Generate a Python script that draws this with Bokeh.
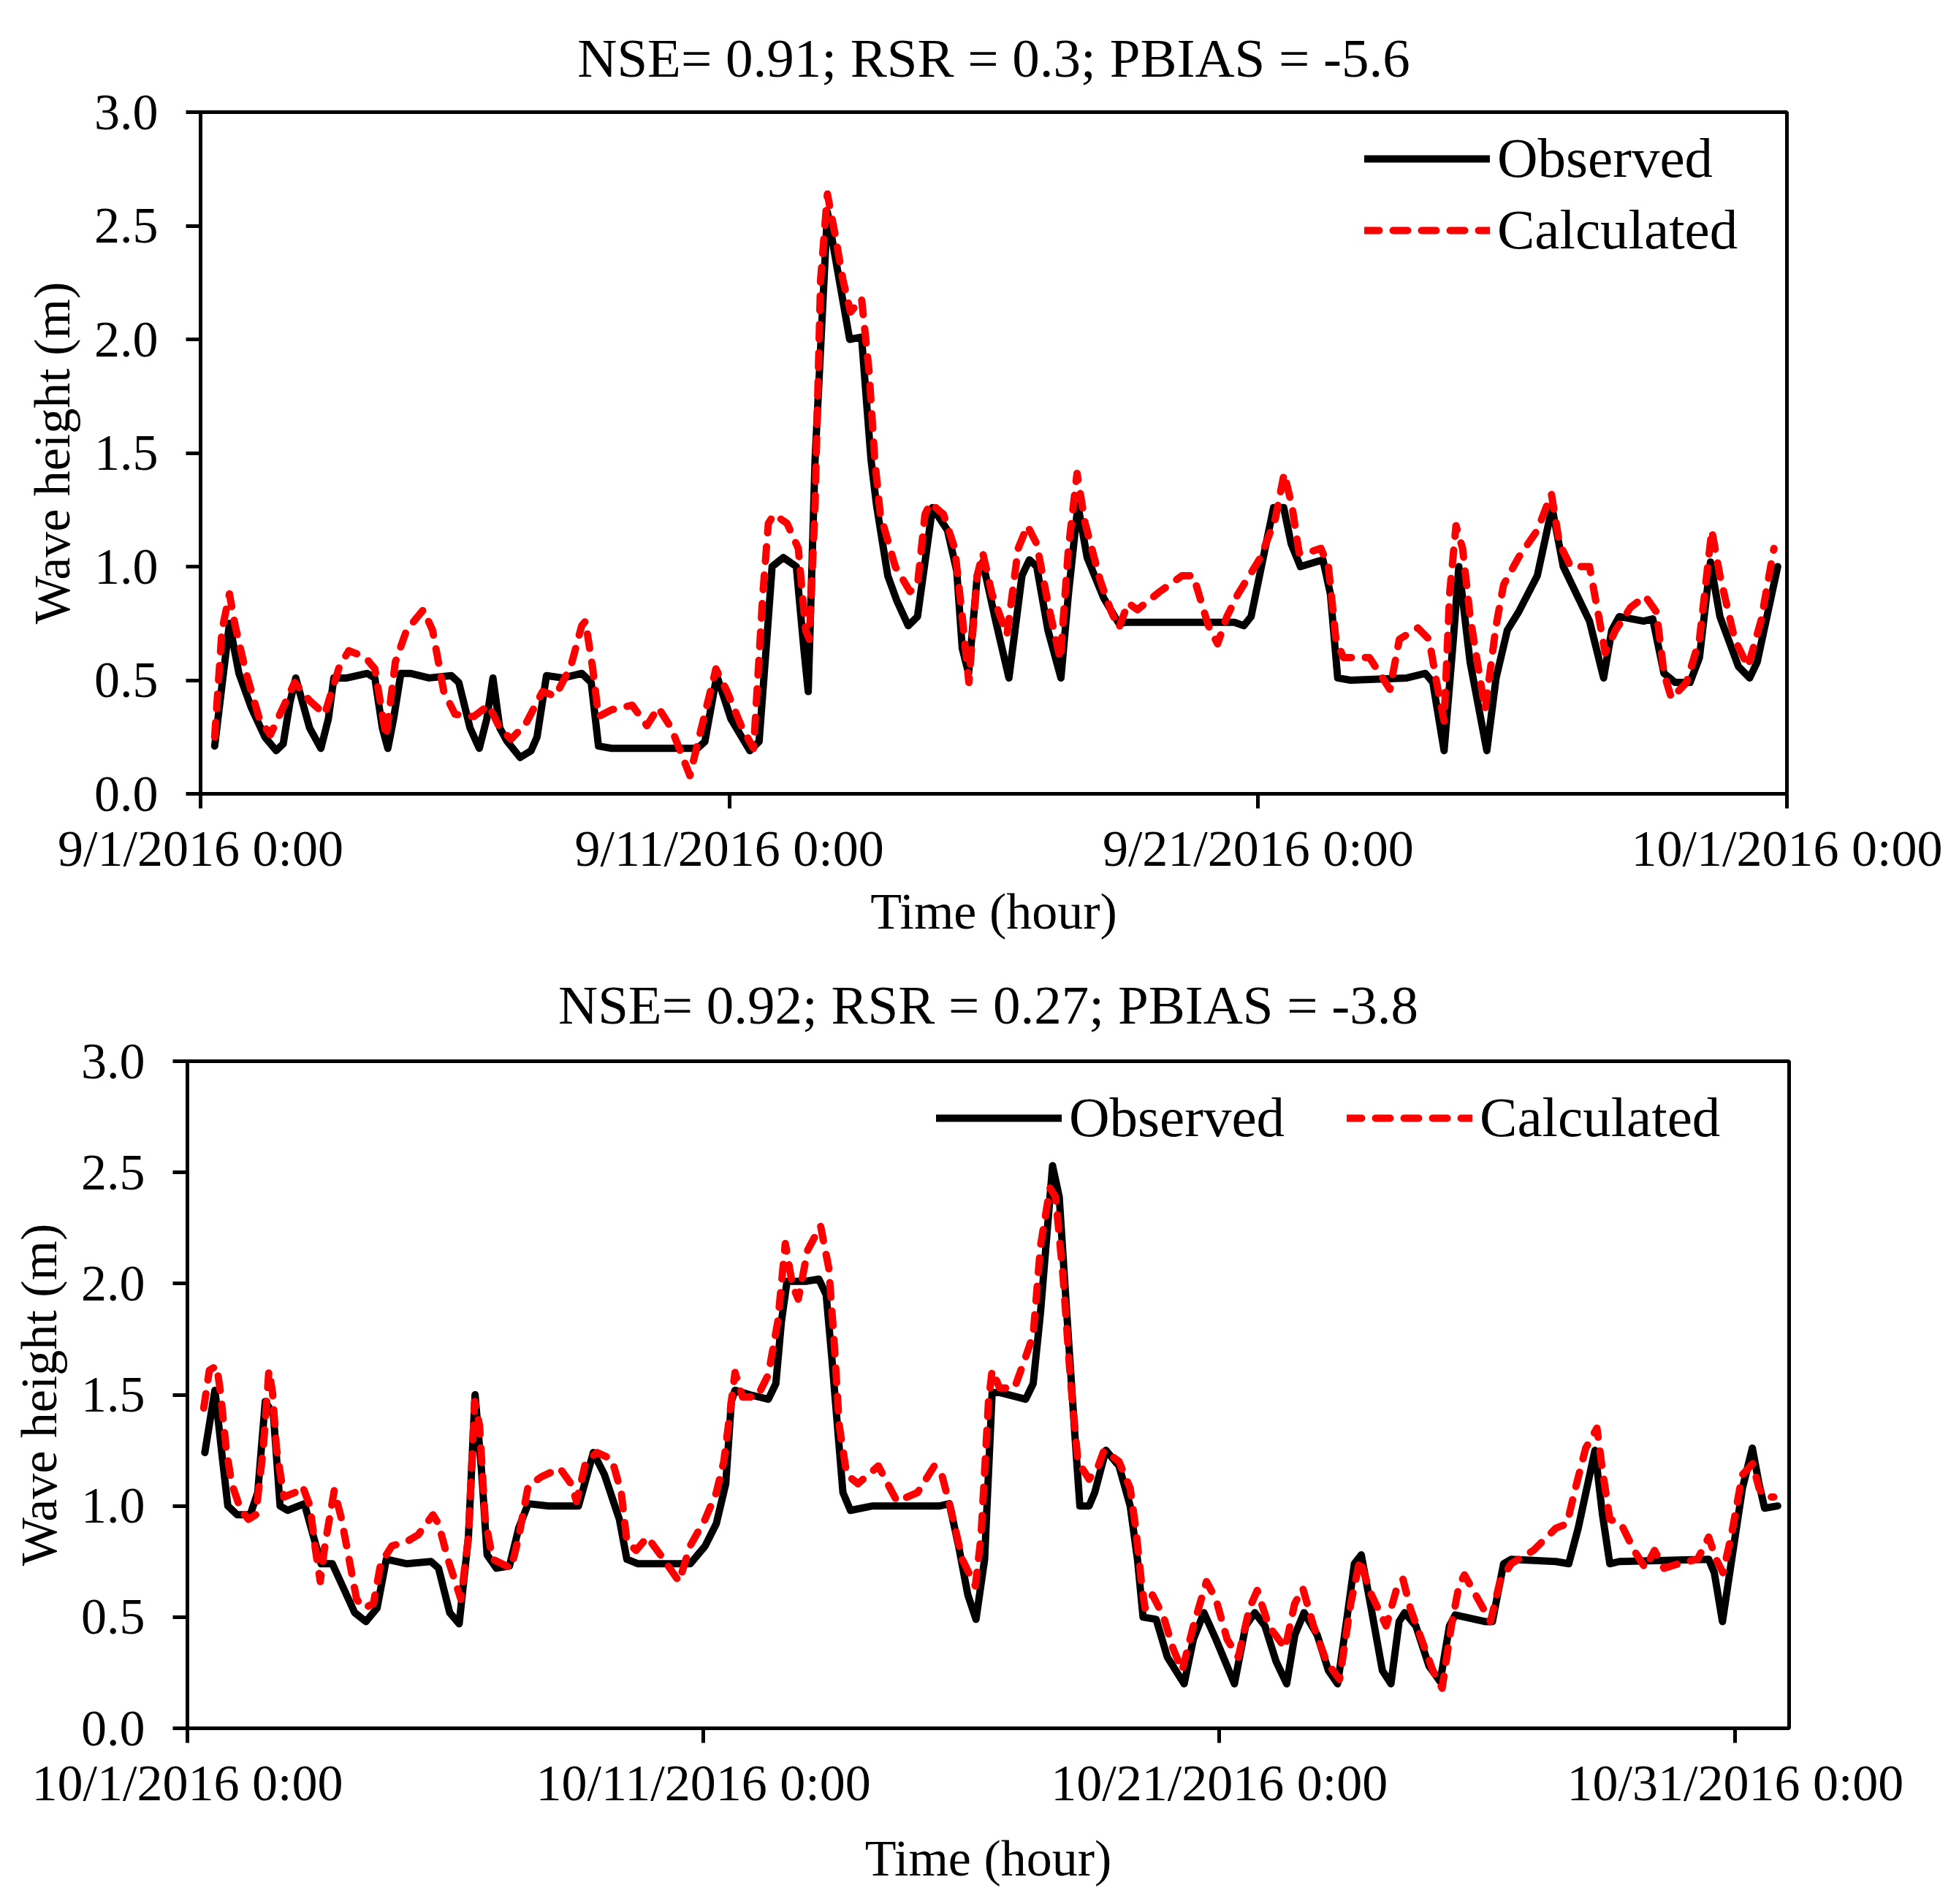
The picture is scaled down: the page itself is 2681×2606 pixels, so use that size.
from bokeh.plotting import figure
from bokeh.layouts import column, row
from bokeh.models import Range1d, FixedTicker, NumeralTickFormatter, Legend, LegendItem
from bokeh.embed import file_html
from bokeh.resources import INLINE

# ---------------- data (hours since start of month, wave height in m) ----------------
sep_titles = "NSE= 0.91; RSR = 0.3; PBIAS = -5.6"
oct_titles = "NSE= 0.92; RSR = 0.27; PBIAS = -3.8"

sep_tick_hours = [0, 240, 480, 720]
sep_tick_labels = ["9/1/2016 0:00", "9/11/2016 0:00", "9/21/2016 0:00", "10/1/2016 0:00"]
oct_tick_hours = [0, 240, 480, 720]
oct_tick_labels = ["10/1/2016 0:00", "10/11/2016 0:00", "10/21/2016 0:00", "10/31/2016 0:00"]
y_ticks = [0.0, 0.5, 1.0, 1.5, 2.0, 2.5, 3.0]

sep_obs_h = [6.4, 13.1, 17.4, 23, 29.2, 34.3, 37.5, 40.5, 43.2, 49.5, 54.6, 58, 60.5, 66.4, 75.7, 79.1,
             82.5, 85, 87.6, 90.9, 95.2, 103.7, 113.8, 117.2, 122.3, 126.5, 129.9, 132.7, 135.8, 139.2,
             145, 150, 152.7, 157, 164.6, 173, 177.3, 180.6, 186.6, 225.5, 228.9, 234.3, 240.7, 249.3,
             253.5, 257, 259.4, 264.5, 270.4, 273.8, 275.8, 278.9, 284.5, 289.9, 294.6, 300, 304.3,
             306.8, 311.9, 316, 321.2, 325.4, 332.2, 339, 343.2, 345.7, 348.6, 352.5, 355, 360.9, 366.9,
             372.8, 376.2, 379.5, 384.6, 390.5, 393.9, 398.2, 402.4, 410, 416.8, 420.2, 469.2, 473.5,
             476.8, 487, 491.6, 495, 499.2, 509.4, 512.8, 516.1, 522, 547.5, 555.9, 559.3, 564.4, 568.6,
             571.1, 576.2, 583.8, 588, 593.1, 598.2, 606.7, 613.4, 618.5, 630.4, 636.8, 640.5, 643.9,
             654.9, 659.1, 664.2, 669.3, 676, 680.3, 685.3, 689.6, 698, 703.1, 706.5, 715.8]
sep_obs_v = [0.21, 0.75, 0.53, 0.38, 0.25, 0.19, 0.22, 0.40, 0.51, 0.29, 0.20, 0.33, 0.51, 0.51, 0.53, 0.51,
             0.29, 0.20, 0.33, 0.53, 0.53, 0.51, 0.52, 0.49, 0.29, 0.20, 0.33, 0.51, 0.29, 0.23,
             0.16, 0.19, 0.25, 0.52, 0.51, 0.53, 0.49, 0.21, 0.20, 0.20, 0.23, 0.52, 0.33, 0.19,
             0.23, 0.68, 1.0, 1.04, 1.0, 0.64, 0.45, 1.47, 2.56, 2.26, 2.0, 2.01, 1.47,
             1.27, 0.96, 0.85, 0.74, 0.78, 1.26, 1.16, 0.98, 0.64, 0.53, 0.96, 1.02, 0.76, 0.51,
             0.96, 1.03, 1.0, 0.72, 0.51, 0.88, 1.27, 1.04, 0.86, 0.75, 0.755, 0.755, 0.74,
             0.78, 1.26, 1.26, 1.10, 1.0, 1.03, 0.88, 0.51, 0.50, 0.51, 0.53, 0.49, 0.19, 0.68,
             1.0, 0.58, 0.19, 0.51, 0.72, 0.80, 0.96, 1.26, 1.0, 0.76, 0.51, 0.72, 0.78,
             0.76, 0.77, 0.53, 0.49, 0.49, 0.60, 1.02, 0.78, 0.56, 0.51, 0.58, 1.0]

sep_calc_h = [6.4, 9.7, 13.1, 15.7, 20.7, 26.7, 31.7, 36, 42.7, 49.5, 56.3, 63, 67.3, 74.9, 79.1, 84.2,
              88.4, 93.5, 101.1, 105.3, 110.4, 115.5, 124, 130.7, 135.8, 140.9, 147.7, 155.2, 161, 168,
              173, 174.7, 178, 180.6, 186.6, 195.9, 202.6, 207.7, 213.6, 222.1, 226.3, 233.9, 239, 245.8,
              251, 255.2, 257.7, 260.3, 266.2, 271.3, 274.6, 276.3, 278.9, 281.4, 284.5, 288.2, 291.6,
              295, 300, 303.4, 306, 308.5, 315.3, 322, 325.4, 328.8, 331.3, 337.2, 342.3, 345.7, 348.7,
              352.5, 355, 359.2, 366, 371.1, 375.3, 379.5, 384.6, 390.2, 393.9, 397.8, 401.5, 408.3,
              413.4, 416.8, 421, 425.2, 435.4, 445.5, 450.6, 457.4, 461.6, 465.8, 470.9, 481.1, 487.8,
              491.8, 495.3, 498.6, 501.8, 508.5, 511.9, 515.3, 518.7, 530.5, 539.8, 544.1, 552.5, 557.6,
              561, 564.4, 566.9, 569.8, 572.8, 576.2, 583, 588, 591.4, 598.2, 606.7, 613.1, 616.8, 621.9,
              630.4, 634.6, 637.5, 642.2, 649, 655.7, 660.8, 664.2, 667.6, 674.4, 680.3, 685.9, 689.6,
              696.3, 702.3, 708.2, 714.1]
sep_calc_v = [0.25, 0.72, 0.88, 0.74, 0.53, 0.33, 0.26, 0.35, 0.49, 0.41, 0.35, 0.56, 0.63, 0.60, 0.55, 0.25,
              0.58, 0.72, 0.81, 0.72, 0.45, 0.35, 0.34, 0.39, 0.29, 0.24, 0.31, 0.45, 0.43, 0.56,
              0.74, 0.76, 0.55, 0.34, 0.37, 0.39, 0.30, 0.38, 0.29, 0.08, 0.25, 0.55, 0.45, 0.29,
              0.20, 0.88, 1.19, 1.23, 1.19, 1.08, 0.72, 0.68, 1.27, 2.26, 2.64, 2.45, 2.26,
              2.12, 2.18, 1.86, 1.47, 1.23, 1.0, 0.89, 0.92, 1.23, 1.28, 1.23, 1.08, 0.78, 0.49,
              0.96, 1.06, 0.88, 0.70, 1.08, 1.18, 1.10, 0.84, 0.59, 1.08, 1.41, 1.19, 0.94,
              0.80, 0.73, 0.84, 0.81, 0.89, 0.96, 0.96, 0.74, 0.66, 0.78, 0.88, 1.04, 1.21,
              1.41, 1.27, 1.06, 1.06, 1.08, 1.0, 0.68, 0.60, 0.60, 0.46, 0.68, 0.73, 0.68,
              0.49, 0.32, 0.88, 1.18, 1.08, 0.78, 0.37, 0.74, 0.92, 1.04, 1.16, 1.32, 1.10, 1.0,
              1.0, 0.78, 0.62, 0.72, 0.82, 0.87, 0.80, 0.53, 0.42, 0.49, 0.68, 1.16, 0.96,
              0.68, 0.56, 0.76, 1.08]

oct_obs_h = [8.1, 12.8, 16.2, 18.8, 23.2, 29.2, 32.7, 36.2, 40, 43.1, 46.6, 54.4, 58.7, 62.2, 67.4, 77.8,
             83, 88.2, 92.5, 102.1, 113.3, 116.8, 122, 126.4, 130.7, 133.8, 136.8, 139.4, 143.7, 149.8,
             154.1, 158.5, 168, 178.4, 181.9, 188.8, 194, 200.9, 204.4, 209.6, 233.9, 240.8, 246, 250.4,
             253, 254.7, 261.6, 270.2, 273.7, 276.3, 278.9, 287.6, 293.7, 297.1, 299.7, 303.2, 304.9,
             308.4, 318.8, 350, 354.4, 358.7, 363, 366.8, 370.8, 374.3, 377.8, 389.9, 393.4, 396.8,
             402.4, 405.5, 409, 412.5, 415.1, 419.4, 422, 427.2, 433.3, 438.5, 441.9, 444.5, 450.6,
             455.8, 463.6, 467.9, 472.8, 478.4, 487, 492.2, 496.5, 501.2, 506.4, 511.3, 515.1, 519.4,
             525.5, 530.7, 535, 539.4, 542.8, 546, 550.6, 555.8, 559.8, 563.6, 566.2, 571.4, 577.5,
             582.7, 587, 589.7, 603.5, 607, 612.2, 615.7, 636.5, 642.5, 646.9, 654.7, 658.2, 661.6, 666,
             707.6, 710.2, 714, 718, 723.3, 727.9, 731, 733.6, 739.7]
oct_obs_v = [1.24, 1.52, 1.22, 1.0, 0.96, 0.96, 1.06, 1.47, 1.41, 1.0, 0.98, 1.01, 0.86, 0.74, 0.74, 0.52,
             0.48, 0.54, 0.76, 0.74, 0.75, 0.72, 0.52, 0.47, 0.86, 1.50, 1.16, 0.78, 0.72, 0.73,
             0.90, 1.01, 1.0, 1.0, 1.0, 1.24, 1.14, 0.94, 0.76, 0.74, 0.74, 0.82, 0.92, 1.10,
             1.47, 1.52, 1.50, 1.48, 1.55, 1.83, 2.01, 2.01, 2.02, 1.95, 1.67, 1.26, 1.06,
             0.98, 1.0, 1.0, 1.01, 0.82, 0.60, 0.49, 0.76, 1.51, 1.51, 1.48, 1.55, 1.87,
             2.53, 2.39, 1.87, 1.36, 1.0, 1.0, 1.06, 1.25, 1.18, 1.0, 0.76, 0.50, 0.49,
             0.32, 0.20, 0.40, 0.52, 0.40, 0.20, 0.46, 0.52, 0.46, 0.30, 0.20, 0.42, 0.52,
             0.42, 0.26, 0.20, 0.50, 0.74, 0.78, 0.54, 0.26, 0.20, 0.48, 0.52, 0.46, 0.28,
             0.21, 0.46, 0.51, 0.48, 0.48, 0.74, 0.76, 0.75, 0.74, 0.90, 1.25, 0.96, 0.74, 0.75,
             0.76, 0.70, 0.48, 0.74, 1.08, 1.26, 1.10, 0.99, 1.0]

oct_calc_h = [7.6, 10.2, 13.6, 15.4, 18, 20.6, 24.9, 28.4, 31.8, 35.3, 37.9, 39.6, 41.4, 44.9, 50, 53.5,
              57, 59.6, 61.8, 63.9, 68.3, 71.7, 75.2, 78.7, 82.1, 86.5, 89.9, 95.1, 102.1, 107.3, 114.2,
              116.8, 121.2, 127.2, 130.7, 133.6, 135.9, 138.5, 142, 150.6, 154.1, 158.5, 164.5, 173.2,
              178.4, 181, 185.3, 190.5, 197.4, 201.8, 204.4, 208.7, 213.9, 220, 228.7, 233.8, 240.8, 246,
              249.5, 254.7, 258.2, 265, 270.2, 274.6, 278.1, 281.5, 284.1, 288.5, 294.5, 298.3, 300.6,
              303.2, 306.7, 311.9, 321.4, 325.7, 330.1, 339.6, 347.4, 350.9, 355.2, 360.4, 366.5, 369.1,
              372.6, 374.3, 377.8, 384.7, 389.9, 393.4, 396.8, 401.2, 403.8, 407.3, 410.7, 414.2, 419.4,
              423.7, 426.3, 433.3, 438.5, 441.1, 443.7, 445.4, 448.9, 454.1, 458.4, 462.7, 467.9, 474,
              478.4, 483.6, 488.8, 494, 497.6, 503, 510.6, 515, 518.8, 523.8, 529.8, 535.9, 541.1, 545.4,
              549.8, 557.6, 562.8, 565.4, 568.8, 574, 579.3, 583.6, 587.9, 591.4, 594, 599.2, 606.1,
              610.5, 615.7, 626.1, 636.5, 641.7, 645.1, 650.4, 655.6, 658.2, 661.6, 666.8, 672.9, 678.1,
              682.4, 686.8, 693.7, 702.4, 707.6, 711.1, 714.2, 718, 723.2, 728, 731, 733.6, 737.9]
oct_calc_v = [1.44, 1.61, 1.63, 1.51, 1.26, 1.10, 0.98, 0.94, 0.96, 1.26, 1.61, 1.51, 1.26, 1.04, 1.06, 1.09,
              1.0, 0.80, 0.66, 0.82, 1.07, 0.94, 0.76, 0.58, 0.54, 0.56, 0.74, 0.82, 0.84, 0.87, 0.96,
              0.92, 0.76, 0.58, 0.86, 1.47, 1.36, 0.94, 0.76, 0.72, 0.86, 1.09, 1.13, 1.17,
              1.10, 1.02, 1.20, 1.24, 1.21, 1.06, 0.84, 0.80, 0.86, 0.78, 0.66, 0.82, 0.94, 1.06,
              1.20, 1.60, 1.49, 1.49, 1.59, 1.83, 2.18, 1.99, 1.93, 2.15, 2.26, 2.07, 1.77,
              1.36, 1.14, 1.10, 1.18, 1.10, 1.02, 1.06, 1.18, 1.14, 0.98, 0.76, 0.64, 0.86,
              1.47, 1.61, 1.53, 1.53, 1.67, 1.77, 2.17, 2.43, 2.39, 2.03, 1.57, 1.20, 1.12,
              1.18, 1.25, 1.20, 1.08, 0.90, 0.66, 0.54, 0.60, 0.50, 0.36, 0.26, 0.46, 0.66,
              0.58, 0.40, 0.32, 0.54, 0.62, 0.46, 0.36, 0.56, 0.63, 0.46, 0.30, 0.22, 0.56, 0.76,
              0.62, 0.46, 0.64, 0.67, 0.54, 0.40, 0.26, 0.18, 0.46, 0.64, 0.69, 0.60, 0.48,
              0.66, 0.74, 0.80, 0.90, 0.92, 1.06, 1.26, 1.35, 1.16, 0.94, 0.92, 0.80, 0.72,
              0.80, 0.72, 0.74, 0.76, 0.86, 0.76, 0.70, 0.86, 1.14, 1.19, 1.08, 1.04, 1.04]

FONT = "Liberation Serif"


def make_panel(title, x_end, tick_hours, tick_labels, obs_h, obs_v, calc_h, calc_v,
               height, borders, title_standoff, xlabel_standoff, legend_loc, orientation,
               legend_spacing):
    left, right, top, bottom = borders
    p = figure(width=2681, height=height, x_range=Range1d(0, x_end), y_range=Range1d(0, 3),
               output_backend="svg", toolbar_location=None,
               min_border_left=left, min_border_right=right,
               min_border_top=top, min_border_bottom=bottom)
    p.title.text = title
    p.title.text_font = FONT
    p.title.text_font_size = "75px"
    p.title.text_font_style = "normal"
    p.title.text_color = "black"
    p.title.align = "center"
    p.title.standoff = title_standoff

    p.xgrid.visible = False
    p.ygrid.visible = False
    p.outline_line_color = "black"
    p.outline_line_width = 5
    p.outline_line_alpha = 1.0
    p.background_fill_color = "white"
    p.border_fill_color = "white"

    p.xaxis.ticker = FixedTicker(ticks=tick_hours)
    p.xaxis.major_label_overrides = {h: lab for h, lab in zip(tick_hours, tick_labels)}
    p.yaxis.ticker = FixedTicker(ticks=y_ticks)
    p.yaxis.formatter = NumeralTickFormatter(format="0.0")

    for ax in (p.xaxis, p.yaxis):
        ax.axis_line_width = 5
        ax.axis_line_color = "black"
        ax.major_tick_line_width = 5
        ax.major_tick_line_color = "black"
        ax.major_tick_out = 20
        ax.major_tick_in = 0
        ax.minor_tick_line_color = None
        ax.major_label_text_font = FONT
        ax.major_label_text_font_size = "70px"
        ax.major_label_text_color = "black"
        ax.axis_label_text_font = FONT
        ax.axis_label_text_font_size = "70px"
        ax.axis_label_text_font_style = "normal"
        ax.axis_label_text_color = "black"
    p.xaxis.axis_label = "Time (hour)"
    p.xaxis.major_label_standoff = 16
    p.xaxis.axis_label_standoff = xlabel_standoff
    p.yaxis.axis_label = "Wave height (m)"
    p.yaxis.major_label_standoff = 38
    p.yaxis.axis_label_standoff = 16

    r_obs = p.line(obs_h, obs_v, line_color="black", line_width=10,
                   line_join="round", line_cap="round")
    r_calc = p.line(calc_h, calc_v, line_color="#FF0000", line_width=10,
                    line_join="round", line_cap="round", line_dash="20 19")

    legend = Legend(items=[LegendItem(label="Observed", renderers=[r_obs]),
                           LegendItem(label="Calculated", renderers=[r_calc])],
                    location=legend_loc, orientation=orientation,
                    border_line_alpha=0, background_fill_alpha=0,
                    padding=0, margin=0, spacing=legend_spacing,
                    label_standoff=10, glyph_width=172, glyph_height=40,
                    label_height=82, label_text_color="black",
                    label_text_font=FONT, label_text_font_size="77px")
    p.add_layout(legend)
    return p


p1 = make_panel(sep_titles, 720, sep_tick_hours, sep_tick_labels,
                sep_obs_h, sep_obs_v, sep_calc_h, sep_calc_v,
                1294, (274, 236, 153, 208), 66, 6, (1593, 727), "vertical", 9)
p2 = make_panel(oct_titles, 745, oct_tick_hours, oct_tick_labels,
                oct_obs_h, oct_obs_v, oct_calc_h, oct_calc_v,
                1312, (256, 233, 158, 241), 72, 23, (1025, 791), "horizontal", 85)

page = column(row(p1), row(p2))
open("out.html", "w").write(file_html(page, INLINE))
